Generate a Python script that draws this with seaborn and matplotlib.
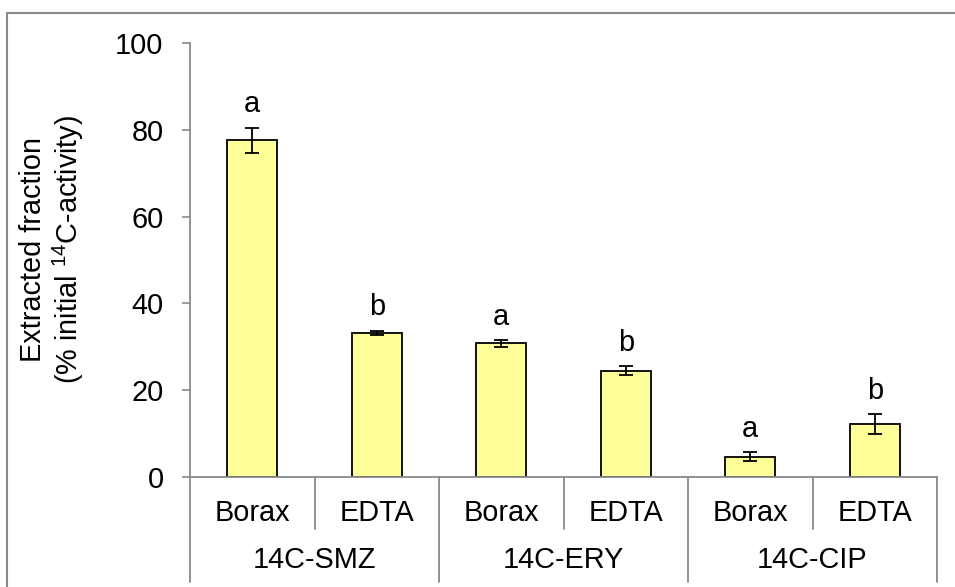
import matplotlib
matplotlib.use("Agg")
import matplotlib.pyplot as plt
import seaborn as sns
import pandas as pd
from matplotlib.lines import Line2D

# ---- data ----
compounds = ["14C-SMZ", "14C-ERY", "14C-CIP"]
extractants = ["Borax", "EDTA"]
means = [77.6, 33.2, 30.8, 24.5, 4.7, 12.2]
errors = [2.9, 0.5, 0.8, 1.0, 1.0, 2.3]
letters = ["a", "b", "a", "b", "a", "b"]
yticks = [0, 20, 40, 60, 80, 100]

sns.set_style("ticks")
plt.rcParams["font.family"] = ["Liberation Sans", "DejaVu Sans"]
plt.rcParams["mathtext.fontset"] = "custom"
plt.rcParams["mathtext.rm"] = "Liberation Sans"
plt.rcParams["mathtext.it"] = "Liberation Sans"
plt.rcParams["text.color"] = "black"
plt.rcParams["ytick.labelcolor"] = "black"

FS = 20.8

keys, comp_col, ext_col = [], [], []
for c in compounds:
    for e in extractants:
        keys.append(f"{c} {e}")
        comp_col.append(c)
        ext_col.append(e)
df = pd.DataFrame({"key": keys, "compound": comp_col, "extractant": ext_col, "value": means})

W, H = 955, 587
fig = plt.figure(figsize=(W / 100, H / 100), dpi=100)
ax = fig.add_axes([190 / W, 1 - 477 / H, (937 - 190) / W, (477 - 43) / H])

sns.barplot(data=df, x="key", y="value", order=keys, color="#FFFF99",
            saturation=1, edgecolor="black", linewidth=1.3, width=0.4,
            errorbar=None, ax=ax)
ax.errorbar(range(len(means)), means, yerr=errors, fmt="none", ecolor="black",
            elinewidth=1.3, capsize=4.8, capthick=1.3, zorder=5)

for i, (m, e, l) in enumerate(zip(means, errors, letters)):
    ax.annotate(l, (i, m + e), xytext=(0, 11), textcoords="offset points",
                ha="center", va="baseline", fontsize=FS, color="black")

ax.set_ylim(0, 100)
ax.set_xlim(-0.5, len(keys) - 0.5)
ax.set_yticks(yticks)
ax.set_yticklabels([str(t) for t in yticks], fontsize=FS, color="black")
ax.tick_params(axis="y", direction="out", length=6, width=1.2, color="#898989", pad=13)
ax.set_xticks([])
ax.set_xlabel("")
ax.set_ylabel("")
for s in ["top", "right"]:
    ax.spines[s].set_visible(False)
for s in ["left", "bottom"]:
    ax.spines[s].set_color("#898989")
    ax.spines[s].set_linewidth(1.3)

# multi-level category axis
tr = ax.get_xaxis_transform()
axh = 477 - 43
y_inner = -(529 - 477) / axh
y_outer = -(582 - 477) / axh
y_lab1 = -(513 - 477) / axh
y_lab2 = -(560 - 477) / axh
for i in range(len(keys) + 1):
    xb = i - 0.5
    yb = y_outer if i % 2 == 0 else y_inner
    ax.add_line(Line2D([xb, xb], [0, yb], transform=tr, color="#898989", lw=1.3, clip_on=False))
for i, e in enumerate(ext_col):
    ax.text(i, y_lab1, e, transform=tr, ha="center", va="center", fontsize=FS, color="black")
for j, c in enumerate(compounds):
    ax.text(2 * j + 0.5, y_lab2, c, transform=tr, ha="center", va="center", fontsize=FS, color="black")

# y label
fig.text(33.5 / W, 1 - 249 / H, "Extracted fraction", rotation=90, ha="center", va="center", fontsize=FS, color="black")
fig.text(68.5 / W, 1 - 249 / H, r"(% initial $^{14}$C-activity)", rotation=90, ha="center", va="center", fontsize=FS, color="black")

# chart frame
fig.add_artist(Line2D([7 / W, 7 / W], [0, 1 - 13 / H], transform=fig.transFigure, color="#898989", lw=1.5))
fig.add_artist(Line2D([7 / W, 1], [1 - 13 / H, 1 - 13 / H], transform=fig.transFigure, color="#898989", lw=1.5))

fig.savefig("out.png", dpi=100)
